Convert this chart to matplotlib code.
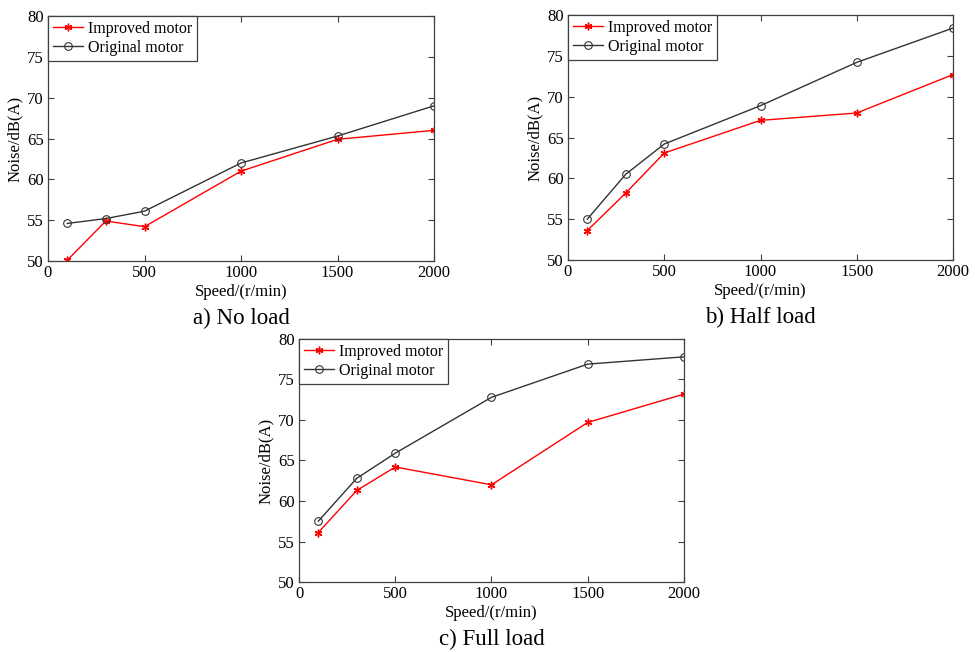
import matplotlib
matplotlib.use("Agg")
import matplotlib.pyplot as plt

plt.rcParams['font.family'] = ['Liberation Serif', 'DejaVu Serif']

speed = [100, 300, 500, 1000, 1500, 2000]

improved_no_load = [50.1, 54.9, 54.2, 61.0, 64.9, 66.0]
original_no_load = [54.6, 55.2, 56.1, 62.0, 65.3, 69.0]

improved_half_load = [53.6, 58.2, 63.1, 67.1, 68.0, 72.7]
original_half_load = [55.0, 60.5, 64.2, 68.9, 74.2, 78.4]

improved_full_load = [56.1, 61.3, 64.2, 62.0, 69.7, 73.2]
original_full_load = [57.5, 62.8, 65.9, 72.8, 76.9, 77.8]

x_ticks = [0, 500, 1000, 1500, 2000]
y_ticks = [50, 55, 60, 65, 70, 75, 80]
captions = ["a) No load", "b) Half load", "c) Full load"]

W, H = 975, 652
fig = plt.figure(figsize=(W / 100, H / 100), dpi=100)


def axes_px(left, top, right, bottom):
    return fig.add_axes([left / W, 1 - bottom / H, (right - left) / W, (bottom - top) / H])


def draw_panel(ax, improved, original, caption):
    ax.plot(speed, improved, color='#ff0000', lw=1.0, marker=(6, 2, 0), ms=5.5,
            mew=1.0, label='Improved motor')
    ax.plot(speed, original, color='#333333', lw=1.0, marker='o', ms=5.5,
            mfc='none', mew=0.8, label='Original motor')
    ax.set_xlim(0, 2000)
    ax.set_ylim(50, 80)
    ax.set_xticks(x_ticks)
    ax.set_yticks(y_ticks)
    ax.tick_params(direction='in', top=True, right=True, length=4, width=0.8,
                   labelsize=12, pad=3, color='#404040')
    for s in ax.spines.values():
        s.set_linewidth(0.9)
        s.set_color('#404040')
    ax.set_xlabel('Speed/(r/min)', fontsize=12, labelpad=2)
    ax.set_ylabel('Noise/dB(A)', fontsize=12, labelpad=3)
    leg = ax.legend(loc='upper left', borderaxespad=0, fontsize=11.5,
                    handlelength=1.9, handletextpad=0.3, labelspacing=0.2,
                    borderpad=0.3, fancybox=False, framealpha=1)
    leg.get_frame().set_edgecolor('#404040')
    leg.get_frame().set_linewidth(0.9)
    ax.text(0.5, -0.235, caption, transform=ax.transAxes, ha='center',
            va='center', fontsize=16.5)


ax_a = axes_px(48, 16, 434, 261)
ax_b = axes_px(568, 15, 953, 260)
ax_c = axes_px(299, 339, 684, 582)

draw_panel(ax_a, improved_no_load, original_no_load, captions[0])
draw_panel(ax_b, improved_half_load, original_half_load, captions[1])
draw_panel(ax_c, improved_full_load, original_full_load, captions[2])

fig.savefig('out.png', dpi=100)
